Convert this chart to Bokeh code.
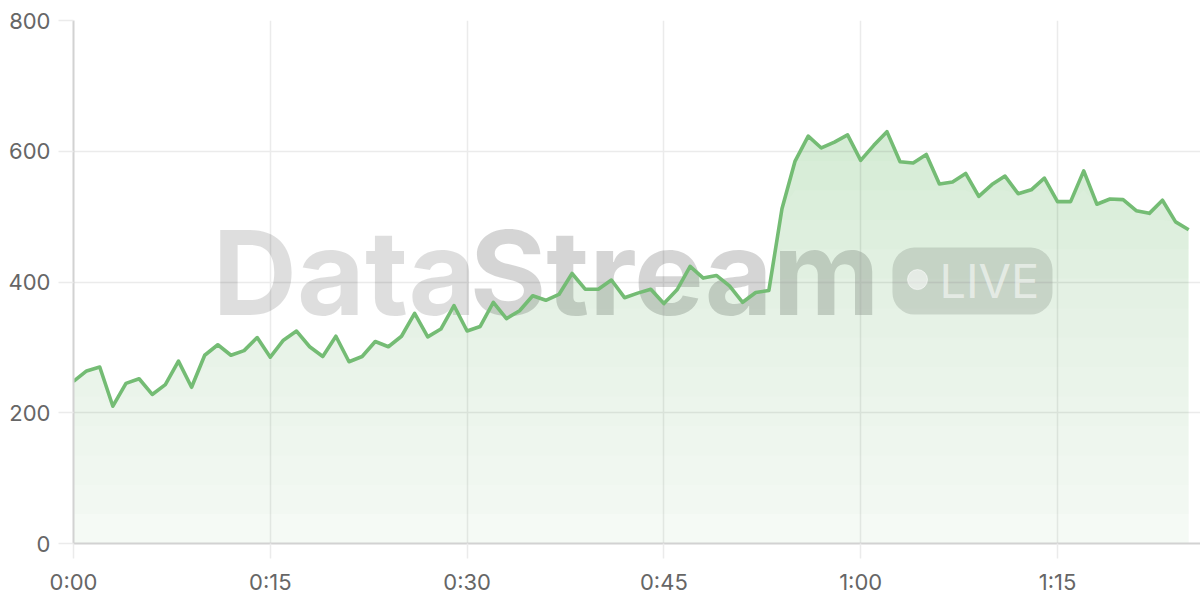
import numpy as np
from bokeh.plotting import figure
from bokeh.models import Range1d, FixedTicker, Label, BoxAnnotation
from bokeh.embed import file_html
from bokeh.resources import INLINE

# ---- data ----
minutes = list(range(86))
viewers = [248, 264, 270, 210, 245, 252, 228, 243, 279, 239,
           288, 304, 288, 295, 315, 285, 311, 325, 301, 286,
           317, 278, 286, 309, 301, 317, 352, 316, 328, 364,
           325, 332, 369, 344, 356, 379, 372, 381, 413, 389,
           389, 403, 376, 383, 389, 367, 388, 424, 406, 410,
           394, 369, 384, 387, 512, 585, 623, 605, 614, 625,
           586, 609, 630, 584, 582, 595, 550, 553, 566, 531,
           549, 562, 535, 541, 559, 523, 523, 570, 519, 527,
           526, 509, 505, 525, 492, 480]
x_ticks = [0, 15, 30, 45, 60, 75]
x_tick_labels = ["0:00", "0:15", "0:30", "0:45", "1:00", "1:15"]
y_ticks = [0, 200, 400, 600, 800]

GREEN = "#74bc74"

p = figure(width=1200, height=600, output_backend="svg", toolbar_location=None,
           x_range=Range1d(0, 85.9), y_range=Range1d(0, 800),
           min_border_left=73, min_border_right=0, min_border_top=20,
           min_border_bottom=57)
p.outline_line_color = None
p.background_fill_color = "white"
p.border_fill_color = "white"

for g in (p.xgrid, p.ygrid):
    g.grid_line_color = "#ebebeb"
    g.grid_line_width = 1.5

for ax in (p.xaxis, p.yaxis):
    ax.axis_line_color = "#d2d2d2"
    ax.axis_line_width = 2
    ax.major_tick_line_color = "#ebebeb"
    ax.major_tick_line_width = 1.5
    ax.major_tick_out = 15
    ax.major_tick_in = 0
    ax.minor_tick_line_color = None
    ax.major_label_text_font = "Inter"
    ax.major_label_text_font_size = "22px"
    ax.major_label_text_color = "#666666"

p.xaxis.ticker = FixedTicker(ticks=x_ticks)
p.xaxis.major_label_overrides = dict(zip(x_ticks, x_tick_labels))
p.xaxis.major_label_standoff = 10
p.yaxis.ticker = FixedTicker(ticks=y_ticks)
p.yaxis.major_label_standoff = 8

# ---- watermark ----
p.add_layout(Label(x=10.6, y=414.0, text="Data", text_font="Inter",
                   text_font_style="bold", text_font_size="117px",
                   text_color="black", text_alpha=0.13,
                   text_baseline="alphabetic", level="underlay"))
p.add_layout(Label(x=30.2, y=414.0, text="Stream", text_font="Inter",
                   text_font_style="bold", text_font_size="117px",
                   text_color="black", text_alpha=0.165,
                   text_baseline="alphabetic", level="underlay"))
p.add_layout(BoxAnnotation(left=62.42, right=74.62, bottom=350.2, top=452.6,
                           fill_color="black", fill_alpha=0.12,
                           line_color=None, border_radius=22,
                           level="underlay"))

# ---- gradient area fill (few layers to avoid 8-bit rounding drift) ----
vals = np.array(viewers, dtype=float)
top_v = vals.max()
o_bottom, o_top = 0.07, 0.27
n = 14
prev = 0.0
for k in range(n):
    lo = top_v * k / n
    target = o_bottom + (o_top - o_bottom) * (lo + top_v / (2 * n)) / top_v if k else o_bottom
    a = 1 - (1 - target) / (1 - prev)
    p.varea(x=minutes, y1=np.minimum(vals, lo), y2=vals,
            fill_color=GREEN, fill_alpha=a)
    prev = target

p.line(minutes, viewers, line_color=GREEN, line_width=3.6, line_join="round")

# badge dot and text
p.scatter([64.33], [403.7], size=20, color="white", alpha=0.55)
p.add_layout(Label(x=66.0, y=402.0, text="LIVE", text_font="Inter",
                   text_font_size="47px", text_color="white", text_alpha=0.55,
                   text_baseline="alphabetic"))

open("out.html", "w").write(file_html(p, INLINE))
